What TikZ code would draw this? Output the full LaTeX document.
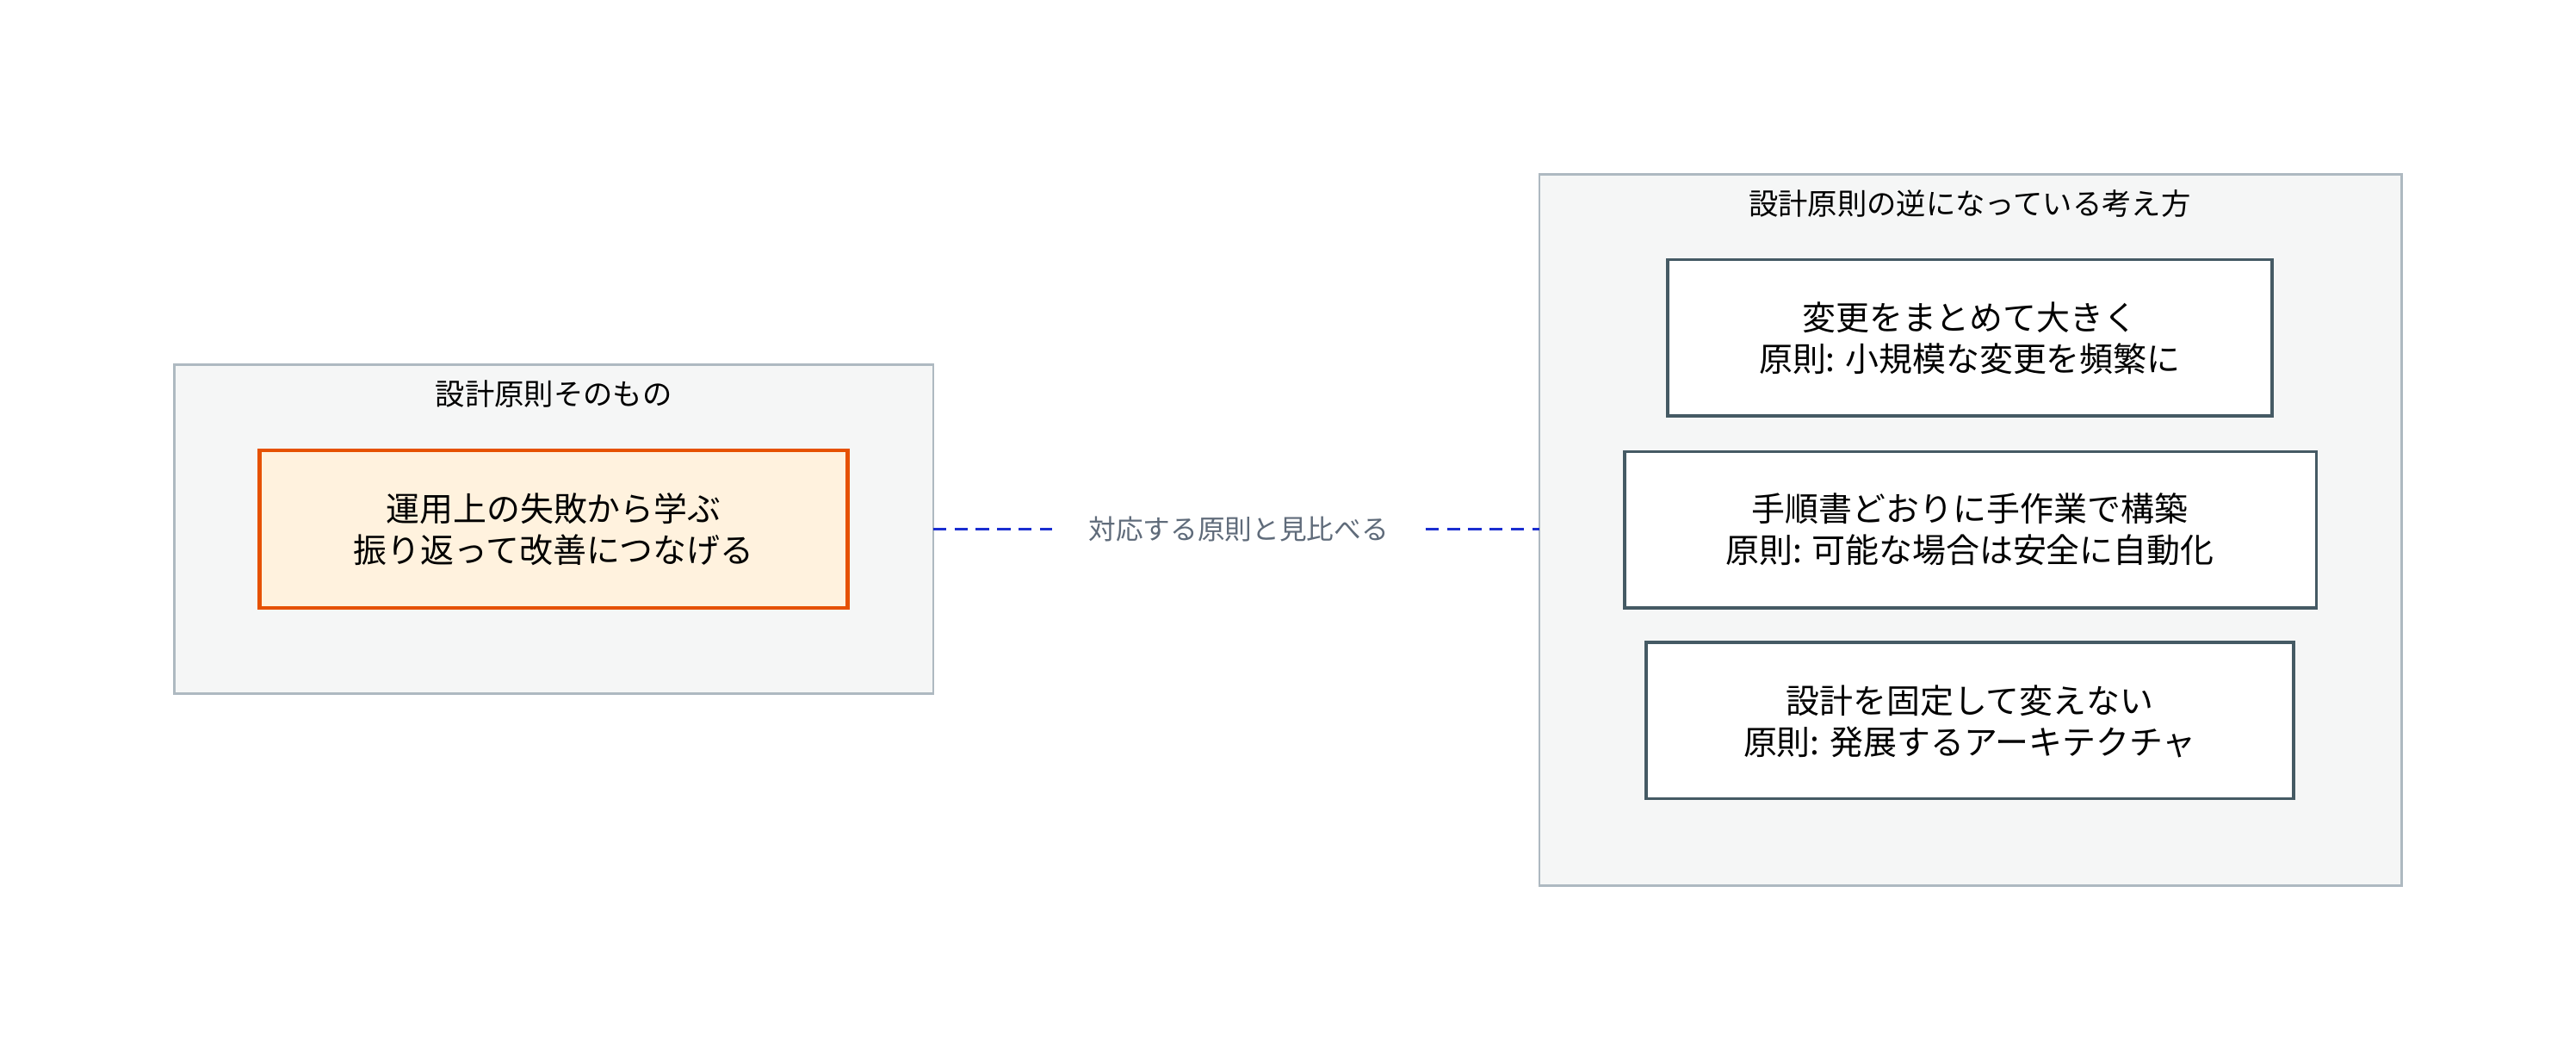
\documentclass[tikz,border=0pt]{standalone}
\usepackage{fontspec}
\setmainfont{Noto Sans CJK JP}
\usetikzlibrary{positioning}
\definecolor{clusterfill}{HTML}{F5F6F6}
\definecolor{clusterline}{HTML}{AEB9C1}
\definecolor{boxline}{HTML}{455A64}
\definecolor{hotfill}{HTML}{FFF2DE}
\definecolor{hotline}{HTML}{E65100}
\definecolor{linkblue}{HTML}{1A2ED0}
\definecolor{labelgrey}{HTML}{5F6B7A}

\tikzset{
  cluster/.style={draw=clusterline, fill=clusterfill, line width=0.7pt},
  clustertitle/.style={font=\fontsize{9}{11}\selectfont, anchor=center},
  idea/.style={draw=boxline, fill=white, line width=0.9pt},
  principle/.style={idea, draw=hotline, fill=hotfill, line width=1.2pt},
  ideatext/.style={align=center, font=\fontsize{10.2}{12.5}\selectfont},
  compare/.style={draw=linkblue, dash pattern=on 4pt off 2.5pt, line width=0.8pt}
}

\begin{document}
\begin{tikzpicture}[x=0.5pt, y=-0.5pt]
\useasboundingbox (0,0) rectangle (1568,645);

% left cluster
\draw[cluster] (106,222) rectangle (568,422);
\node[clustertitle] (lefttitle) at (337,240) {設計原則そのもの};
\draw[principle] (158,274) rectangle (516,370);
\node[ideatext] (learn) at (337,322) {運用上の失敗から学ぶ\\振り返って改善につなげる};
\coordinate (leftedge) at (568,322);

% right cluster
\draw[cluster] (937,106) rectangle (1462,539);
\node[clustertitle] (righttitle) at (1199,124) {設計原則の逆になっている考え方};
\draw[idea] (1015,158) rectangle (1383,253);
\node[ideatext] (batch) at (1199,206) {変更をまとめて大きく\\原則: 小規模な変更を頻繁に};
\draw[idea] (989,275) rectangle (1410,370);
\node[ideatext] (manual) at (1199,322) {手順書どおりに手作業で構築\\原則: 可能な場合は安全に自動化};
\draw[idea] (1002,391) rectangle (1396,486);
\node[ideatext] (fixed) at (1199,439) {設計を固定して変えない\\原則: 発展するアーキテクチャ};
\coordinate (rightedge) at (937,322);

% link
\node[font=\fontsize{8.3}{10}\selectfont, text=labelgrey, fill=white, inner xsep=11pt] (cmp) at (754,322) {対応する原則と見比べる};
\draw[compare] (leftedge) -- (cmp.west);
\draw[compare] (cmp.east) -- (rightedge);
\end{tikzpicture}
\end{document}
